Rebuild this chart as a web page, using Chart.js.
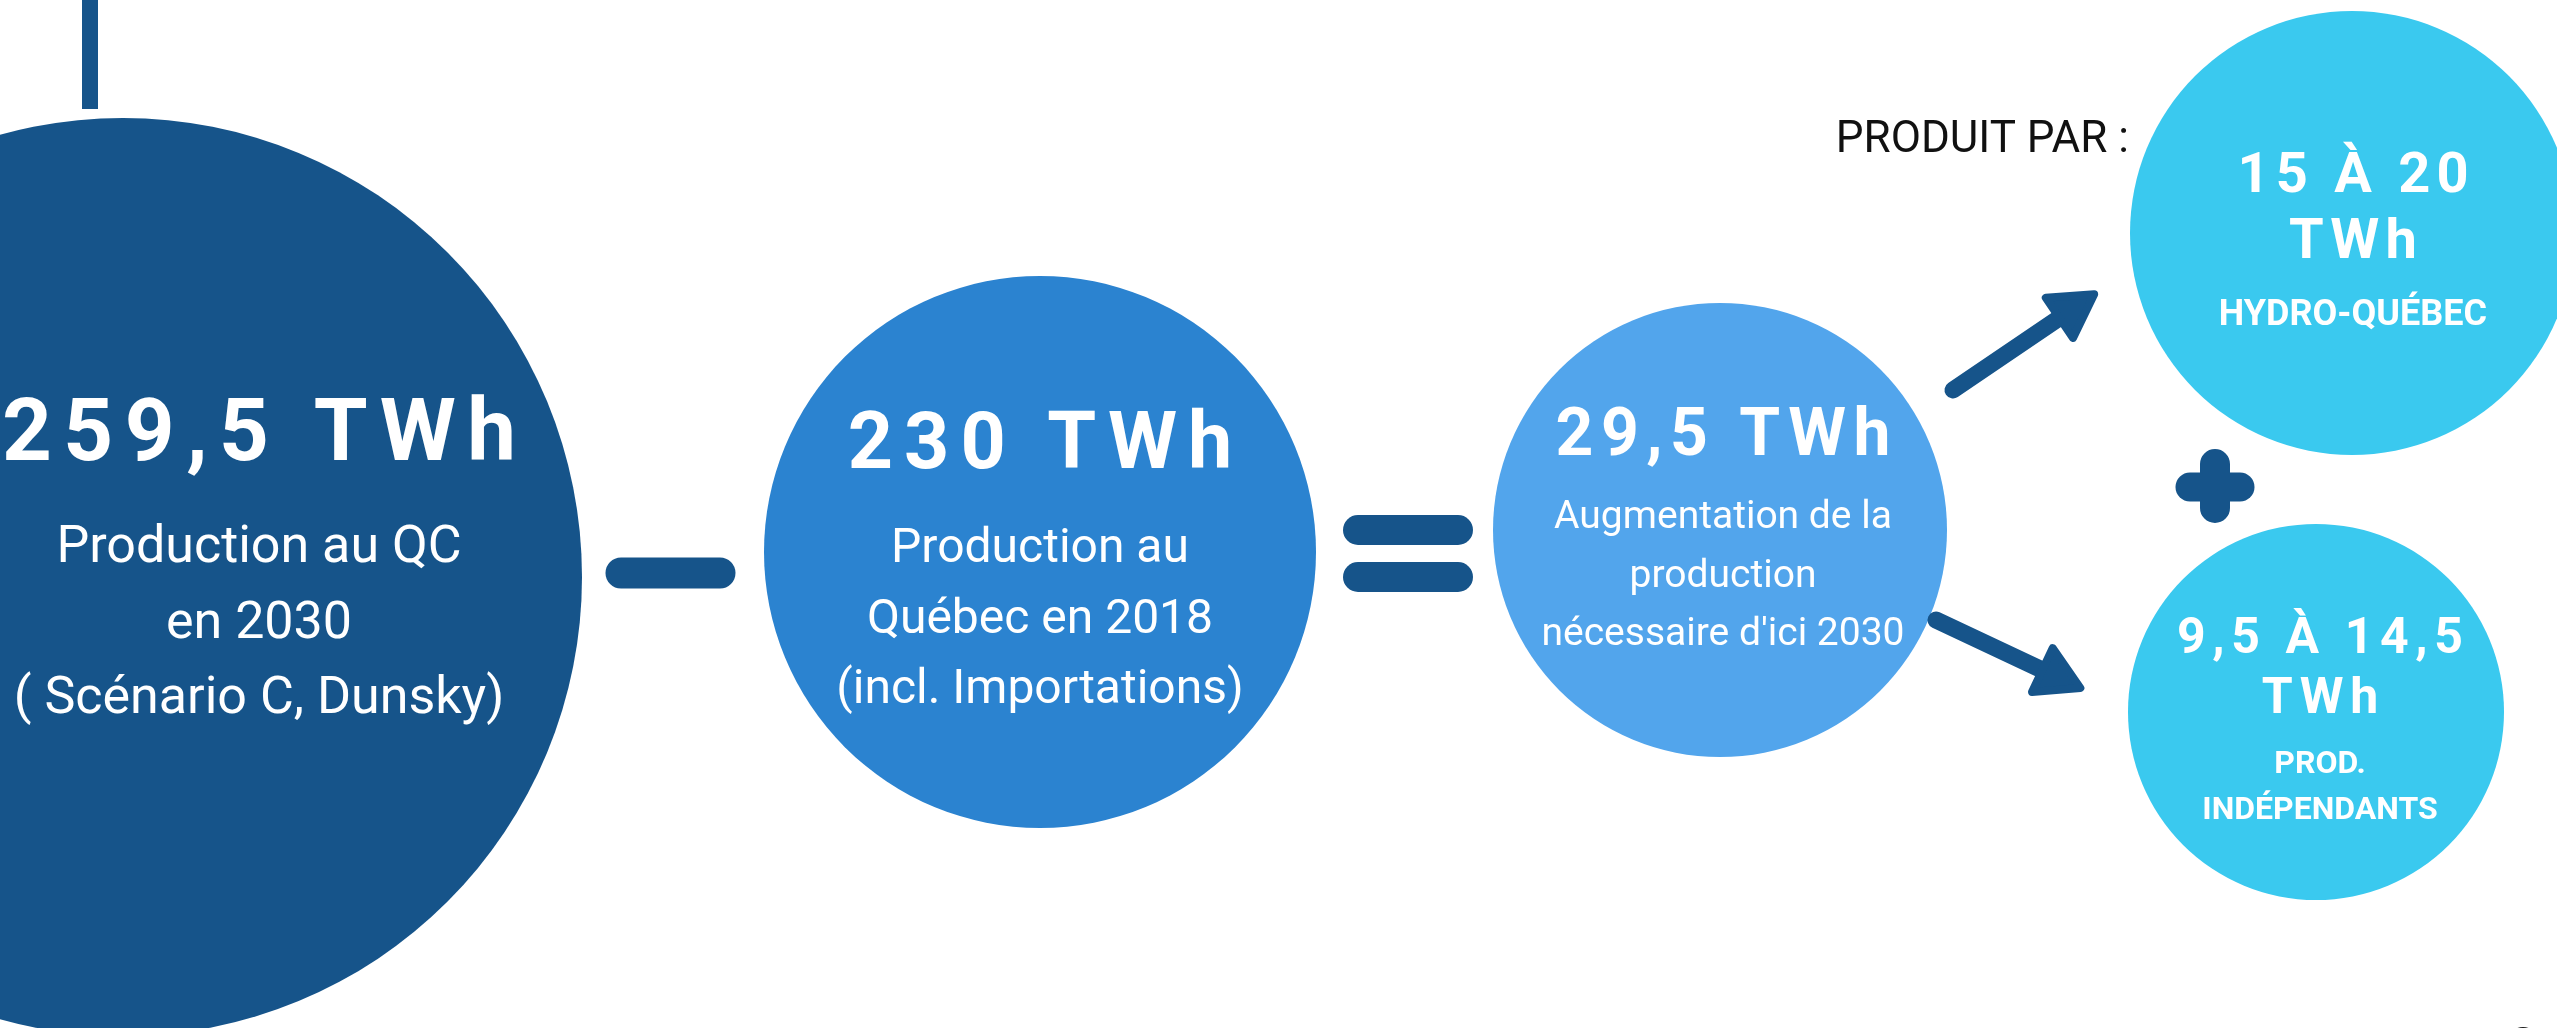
<!DOCTYPE html>
<html>
<head>
<meta charset="utf-8">
<script src="https://cdn.jsdelivr.net/npm/chart.js@4.4.1/dist/chart.umd.min.js"></script>
<style>
  html, body { margin: 0; padding: 0; background: #ffffff; overflow: hidden; }
  #wrap { width: 2557px; height: 1028px; }
</style>
</head>
<body>
<div id="wrap"><canvas id="c" width="2557" height="1028"></canvas></div>
<script>
// ---------------- DATA ----------------
const categories = [
  "Production au QC en 2030",
  "Production au Québec en 2018",
  "Augmentation nécessaire d'ici 2030",
  "Hydro-Québec",
  "Producteurs indépendants"
];
const valuesLow  = [259.5, 230, 29.5, 15, 9.5];   // TWh
const valuesHigh = [259.5, 230, 29.5, 20, 14.5];  // TWh
const titleLabels = [
  ["259,5 TWh"],
  ["230 TWh"],
  ["29,5 TWh"],
  ["15 À 20", "TWh"],
  ["9,5 À 14,5", "TWh"]
];
const descLabels = [
  ["Production au QC", "en 2030", "( Scénario C, Dunsky)"],
  ["Production au", "Québec en 2018", "(incl. Importations)"],
  ["Augmentation de la", "production", "nécessaire d'ici 2030"],
  ["HYDRO-QUÉBEC"],
  ["PROD.", "INDÉPENDANTS"]
];
const captionLabel = "PRODUIT PAR :";

// ---------------- LAYOUT (positions / sizes / styles) ----------------
const W = 2557, H = 1028;
const DARK = '#16548A';
const circleLayout = [
  {cx: 123,  cy: 577, r: 459, color: '#16548A', tx: 259,  titleY: [460],      titleSize: 87, titleLS: 11.5, descY: [562, 638, 713], descSize: 52, descWeight: 'normal'},
  {cx: 1040, cy: 552, r: 276, color: '#2B83D0', tx: 1040, titleY: [468],      titleSize: 79, titleLS: 11,   descY: [562, 633, 703], descSize: 48, descWeight: 'normal'},
  {cx: 1720, cy: 530, r: 227, color: '#52A5EC', tx: 1723, titleY: [455],      titleSize: 66, titleLS: 7.5,  descY: [528, 587, 645], descSize: 39, descWeight: 'normal'},
  {cx: 2352, cy: 233, r: 222, color: '#3AC9EF', tx: 2353, titleY: [192, 258], titleSize: 56, titleLS: 6.2,  descY: [325],           descSize: 36, descWeight: 'bold'},
  {cx: 2316, cy: 712, r: 188, color: '#3AC9EF', tx: 2320, titleY: [653, 713], titleSize: 50, titleLS: 6.6,  descY: [773, 819],      descSize: 32, descWeight: 'bold'}
];
const captionPos = {x: 2129, y: 152, size: 44, color: '#111111'};
// connector strokes (segments drawn as lines with round caps)
const strokes = [
  {pts: [[90, -20], [90, 109]], width: 16, cap: 'butt'},     // vertical line top-left
  {pts: [[621, 573], [720, 573]], width: 31, cap: 'round'},  // minus
  {pts: [[1358, 530], [1458, 530]], width: 30, cap: 'round'},// equals top
  {pts: [[1358, 577], [1458, 577]], width: 30, cap: 'round'},// equals bottom
  {pts: [[2215, 464], [2215, 508]], width: 30, cap: 'round'},// plus vertical
  {pts: [[2190, 487], [2240, 487]], width: 29, cap: 'round'} // plus horizontal
];
const arrows = [
  {tail: [1953, 390], head: [2071, 310]},
  {tail: [1936, 620], head: [2055, 676]}
];

// ---------------- BUILD DATASETS ----------------
const circleDataset = {
  type: 'bubble',
  label: 'TWh',
  order: 10,
  data: circleLayout.map((c, i) => ({x: c.cx, y: c.cy, r: c.r, v: valuesLow[i], v2: valuesHigh[i], name: categories[i]})),
  backgroundColor: circleLayout.map(c => c.color),
  borderWidth: 0,
  hoverRadius: 0
};
const strokeDatasets = strokes.map(s => ({
  type: 'line',
  order: 1,
  data: s.pts.map(p => ({x: p[0], y: p[1]})),
  borderColor: DARK,
  borderWidth: s.width,
  borderCapStyle: s.cap,
  pointRadius: 0,
  fill: false,
  tension: 0
}));
const shaftDatasets = arrows.map(a => ({
  type: 'line',
  order: 2,
  data: [{x: a.tail[0], y: a.tail[1]}, {x: a.head[0], y: a.head[1]}],
  borderColor: DARK,
  borderWidth: 17,
  borderCapStyle: 'round',
  pointRadius: 0,
  fill: false
}));
const headDataset = {
  type: 'line',
  order: 0,
  showLine: false,
  data: arrows.map(a => ({x: a.head[0], y: a.head[1]})),
  pointStyle: 'triangle',
  pointRadius: 28,
  pointBorderWidth: 8,
  pointBackgroundColor: DARK,
  pointBorderColor: DARK,
  pointRotation: arrows.map(a => Math.atan2(a.head[1] - a.tail[1], a.head[0] - a.tail[0]) * 180 / Math.PI + 90)
};
const cornerDot = {
  type: 'bubble', order: 11,
  data: [{x: 2523, y: 1042, r: 15}],
  backgroundColor: '#1b1b1b', borderWidth: 0
};

// ---------------- TEXT PLUGIN ----------------
const textPlugin = {
  id: 'infographicText',
  beforeDatasetsDraw(chart) {
    chart.ctx.lineJoin = 'round';
  },
  afterDatasetsDraw(chart) {
    const ctx = chart.ctx;
    const xs = chart.scales.x, ys = chart.scales.y;
    const put = (text, x, y, font, color, ls, align) => {
      ctx.save();
      ctx.font = font;
      ctx.fillStyle = color;
      ctx.textAlign = align || 'center';
      ctx.textBaseline = 'alphabetic';
      ctx.letterSpacing = (ls || 0) + 'px';
      const dx = ((align || 'center') === 'center' && ls) ? ls / 2 : 0;
      ctx.fillText(text, xs.getPixelForValue(x) + dx, ys.getPixelForValue(y));
      ctx.restore();
    };
    circleLayout.forEach((c, i) => {
      titleLabels[i].forEach((t, k) => put(t, c.tx, c.titleY[k], `bold ${c.titleSize}px Roboto, "Liberation Sans", sans-serif`, '#ffffff', c.titleLS));
      descLabels[i].forEach((t, k) => put(t, c.tx, c.descY[k], `${c.descWeight} ${c.descSize}px Roboto, "Liberation Sans", sans-serif`, '#ffffff', 0));
    });
    put(captionLabel, captionPos.x, captionPos.y, `normal ${captionPos.size}px Roboto, "Liberation Sans", sans-serif`, captionPos.color, 0, 'right');
  }
};

// ---------------- CHART ----------------
new Chart(document.getElementById('c').getContext('2d'), {
  type: 'bubble',
  data: { datasets: [headDataset, ...shaftDatasets, ...strokeDatasets, circleDataset, cornerDot] },
  options: {
    responsive: false,
    animation: false,
    devicePixelRatio: 1,
    events: [],
    layout: { padding: 0, autoPadding: false },
    scales: {
      x: { type: 'linear', min: 0, max: W, display: false },
      y: { type: 'linear', min: 0, max: H, reverse: true, display: false }
    },
    plugins: { legend: { display: false }, tooltip: { enabled: false } }
  },
  plugins: [textPlugin]
});
</script>
</body>
</html>
